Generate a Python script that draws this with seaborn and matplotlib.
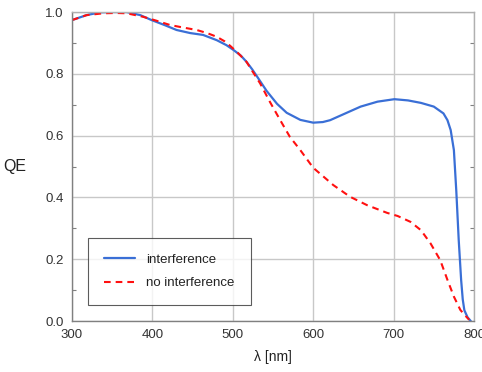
import numpy as np
import pandas as pd
import matplotlib
matplotlib.use("Agg")
import matplotlib.pyplot as plt
from matplotlib.ticker import MultipleLocator
import seaborn as sns

# valores (longitud de onda en nm, QE)
wl_int = [300, 318, 335, 350, 368, 385, 399, 415, 430, 447, 463, 480, 492, 501,
          510, 517, 524, 530, 542, 555, 567, 584, 600, 612, 621, 640, 659, 680,
          701, 718, 734, 750, 762, 767, 771, 775, 778, 781, 784, 786, 788, 792,
          796]
qe_int = [0.974, 0.99, 0.999, 1.0, 1.0, 0.99, 0.974, 0.958, 0.942, 0.932,
          0.926, 0.909, 0.893, 0.877, 0.859, 0.839, 0.815, 0.792, 0.745, 0.703,
          0.674, 0.651, 0.642, 0.644, 0.65, 0.672, 0.694, 0.71, 0.718, 0.714,
          0.706, 0.694, 0.672, 0.65, 0.618, 0.553, 0.42, 0.262, 0.133, 0.07,
          0.035, 0.012, 0.0]

wl_noint = [300, 318, 339, 355, 368, 388, 405, 422, 438, 455, 468, 480, 490, 497,
            507, 517, 525, 534, 546, 559, 571, 584, 600, 613, 625, 646, 667, 692,
            705, 721, 734, 746, 758, 767, 775, 783, 789, 794]
qe_noint = [0.974, 0.99, 0.996, 0.997, 0.996, 0.985, 0.972, 0.958, 0.95,
            0.942, 0.932, 0.92, 0.905, 0.89, 0.866, 0.839, 0.806, 0.769, 0.71,
            0.65, 0.596, 0.553, 0.496, 0.467, 0.44, 0.402, 0.375, 0.35, 0.34,
            0.321, 0.294, 0.251, 0.197, 0.133, 0.079, 0.036, 0.018, 0.004]

df1 = pd.DataFrame({"wl": wl_int, "qe": qe_int})
df2 = pd.DataFrame({"wl": wl_noint, "qe": qe_noint})

sns.set_theme(style="whitegrid")
plt.rcParams["font.family"] = ["Liberation Sans", "DejaVu Sans"]

fig = plt.figure(figsize=(4.82, 3.72), dpi=100)
ax = fig.add_axes([0.1494, 0.137, 0.834, 0.8306])

sns.lineplot(data=df1, x="wl", y="qe", ax=ax, color="#3a6fd6", lw=1.6,
             label="interference", sort=False)
sns.lineplot(data=df2, x="wl", y="qe", ax=ax, color="#ff1010", lw=1.5,
             linestyle=(0, (3.2, 2.4)), label="no interference", sort=False)

ax.set_xlim(300, 800)
ax.set_ylim(0, 1.0)
ax.xaxis.set_major_locator(MultipleLocator(100))
ax.yaxis.set_major_locator(MultipleLocator(0.2))
ax.yaxis.set_minor_locator(MultipleLocator(0.1))
ax.yaxis.set_major_formatter(plt.FuncFormatter(lambda v, p: f"{v:.1f}"))

ax.grid(True, which="major", color="#c8c8c8", lw=1.0)
ax.grid(False, which="minor")
for s in ax.spines.values():
    s.set_visible(True)
    s.set_color("#b0b0b0")
    s.set_linewidth(1.0)
ax.spines["left"].set_color("#808080")
ax.spines["bottom"].set_color("#808080")

ax.tick_params(axis="both", which="major", labelsize=9.5, labelcolor="#333333",
               length=0, pad=6)
ax.tick_params(axis="y", which="minor", direction="in", length=3, width=0.8,
               color="#808080", left=True, right=True)

ax.set_xlabel("λ [nm]", fontsize=10, color="#222222", labelpad=6)
ax.set_ylabel("QE", fontsize=11.5, color="#222222", rotation=0, labelpad=22,
              va="center")

# leyenda abajo a la izquierda
leg = ax.legend(loc="lower left", bbox_to_anchor=(0.039, 0.052), fontsize=9.5,
                frameon=True, fancybox=False, edgecolor="#333333",
                borderpad=1.2, labelspacing=0.85, handlelength=2.4,
                handletextpad=0.85, borderaxespad=0)
leg.get_frame().set_linewidth(0.8)
for t in leg.get_texts():
    t.set_color("#222222")

fig.savefig("out.png", dpi=100)
